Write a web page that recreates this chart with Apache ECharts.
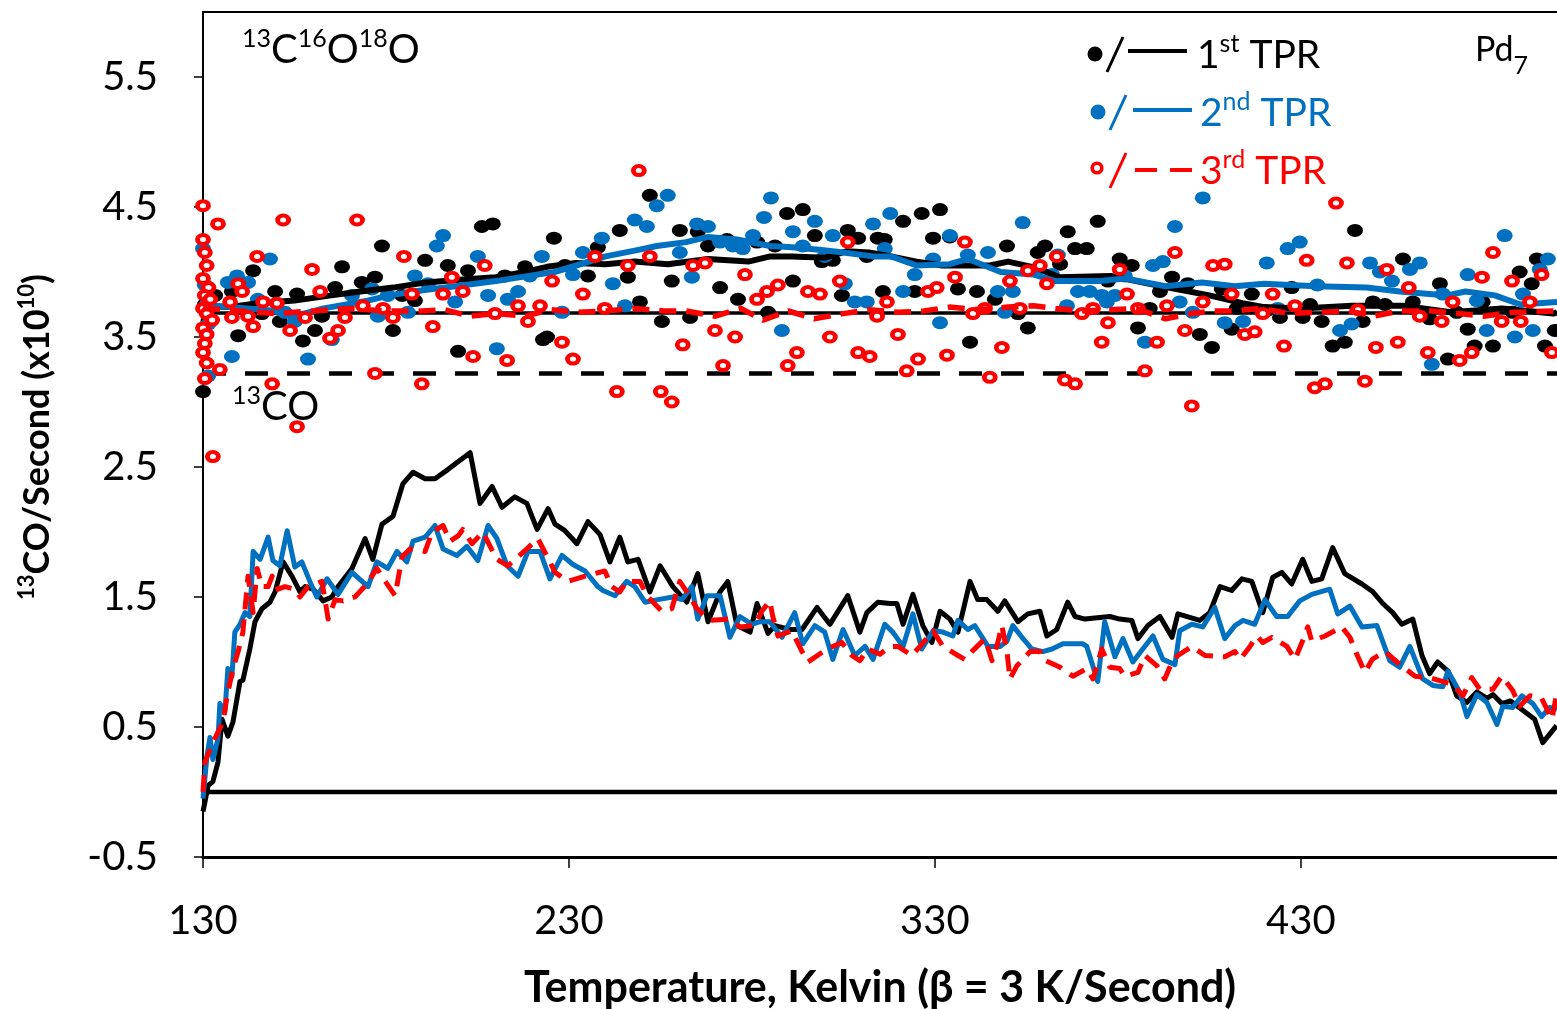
<!DOCTYPE html>
<html><head><meta charset="utf-8">
<script src="https://cdn.jsdelivr.net/npm/echarts@6/dist/echarts.min.js"></script>
<style>html,body{margin:0;padding:0;background:#fff}#chart{width:1557px;height:1009px}</style>
</head><body><div id="chart"></div>
<script>
// ---------- data ----------
const xRange = [130, 500];
const yRange = [-0.5, 6];
const xTickValues = [130, 230, 330, 430];
const yTickValues = [-0.5, 0.5, 1.5, 2.5, 3.5, 4.5, 5.5];
const ref13C16O18OSolid = 3.685;
const ref13C16O18ODashed = 3.22;
const ref13COZero = 0;

// 13C16O18O, 1st TPR (black dots)
const tpr1Dots = [[130,3.08],[130.5,3.75],[131.5,3.62],[133.3,3.82],[137.9,3.85],[139.6,3.51],[143.7,4.01],[146.1,3.68],[149.7,3.85],[151.0,3.62],[155.7,3.83],[157.3,3.47],[160.6,3.55],[162.5,3.66],[166.1,3.88],[168.0,4.04],[173.4,3.92],[177.0,3.96],[178.9,4.20],[181.9,3.55],[184.4,3.82],[187.9,3.78],[190.7,4.09],[196.9,4.05],[199.7,3.39],[202.4,4.01],[206.2,4.35],[209.2,4.37],[212.5,3.97],[218.0,4.04],[222.9,3.48],[224.0,3.50],[225.9,4.26],[228.9,4.05],[235.2,3.97],[237.9,4.19],[243.9,4.32],[246.1,3.96],[249.4,3.77],[252.1,4.59],[255.4,3.62],[258.1,3.93],[260.3,4.32],[263.1,3.65],[265.2,4.31],[268.0,4.20],[271.3,3.88],[273.2,4.25],[276.2,3.79],[281.4,4.23],[284.4,3.69],[286.3,4.20],[289.6,4.45],[291.2,3.93],[293.9,4.48],[297.2,4.28],[299.1,4.08],[302.1,4.09],[304.6,3.82],[306.2,4.32],[309.0,4.26],[311.4,4.12],[314.4,4.26],[315.8,3.85],[316.3,4.25],[321.3,4.39],[324.5,3.85],[326.4,4.45],[329.5,4.26],[331.4,4.48],[334.1,4.27],[336.3,3.87],[339.6,3.46],[341.5,3.85],[346.4,3.79],[349.7,4.20],[352.7,3.68],[355.4,3.57],[358.1,4.15],[360.1,4.20],[364.2,4.06],[366.3,4.31],[368.3,4.18],[371.5,4.18],[374.5,4.39],[377.3,3.93],[380.5,4.10],[383.8,4.05],[385.5,3.57],[388.7,3.72],[391.5,3.85],[394.8,3.96],[399.1,3.91],[402.4,3.52],[405.7,3.42],[408.4,3.87],[411.1,3.56],[412.5,3.72],[416.6,3.83],[420.5,3.70],[424.3,3.65],[427.5,3.88],[430.5,3.65],[432.5,3.75],[435.7,3.62],[438.7,3.43],[442.0,3.46],[444.8,4.32],[446.9,3.62],[449.7,3.77],[453.0,3.75],[457.9,4.10],[460.6,3.77],[465.2,3.64],[468.0,3.91],[470.2,3.33],[472.6,3.69],[475.6,3.56],[477.5,3.43],[479.7,3.77],[482.5,3.43],[487.9,3.69],[489.8,4.00],[493.1,3.91],[494.5,4.10],[496.7,3.43],[499.4,3.55]];

// 13C16O18O, 2nd TPR (blue dots)
const tpr2Dots = [[130,4.18],[130.5,3.90],[131,3.75],[131.4,3.20],[131.5,3.60],[136.8,3.92],[137.9,3.35],[139.3,3.97],[142.3,3.92],[145.0,3.79],[148.3,4.10],[152.4,3.69],[155.1,3.62],[158.7,3.33],[165.2,3.48],[170.7,3.82],[176.2,3.87],[177.8,3.66],[180.5,3.82],[186.0,3.69],[187.9,3.97],[191.5,3.91],[193.9,4.20],[195.6,4.28],[198.9,3.77],[205.1,4.12],[207.9,3.82],[210.3,3.41],[213.3,3.79],[216.1,3.85],[219.3,3.97],[222.6,4.12],[228.1,3.69],[231.1,3.98],[233.8,4.15],[239.0,4.26],[242.0,3.91],[245.3,3.74],[248.0,4.40],[251.3,4.35],[254.0,4.51],[257.0,4.59],[260.3,4.15],[263.6,3.96],[265.0,4.37],[268.0,4.35],[271.3,4.23],[274.8,4.20],[277.5,4.18],[280.3,4.28],[283.3,4.42],[285.2,4.57],[288.2,3.55],[291.2,4.31],[293.9,4.20],[297.2,4.39],[299.9,4.12],[302.1,4.28],[305.4,3.91],[308.1,3.77],[311.4,3.77],[313.1,4.37],[316.3,4.18],[317.8,4.45],[321.3,3.85],[324.5,3.98],[329.5,4.10],[331.4,3.61],[334.1,4.28],[339.0,4.13],[344.5,4.15],[347.2,3.85],[349.1,3.69],[351.3,3.85],[354.0,4.38],[358.1,4.02],[362.0,3.98],[363.6,4.13],[366.1,3.74],[369.1,3.85],[372.3,3.85],[375.6,3.82],[377.0,3.77],[379.2,3.82],[381.9,3.97],[387.4,3.46],[389.6,4.05],[392.3,4.08],[395.6,4.35],[396.9,3.77],[400.5,3.69],[403.2,4.57],[409.2,3.61],[414.2,3.62],[420.7,4.07],[423.7,3.72],[426.4,4.18],[429.7,4.23],[434.5,3.90],[440.7,3.55],[443.9,3.60],[448.9,4.07],[451.6,4.00],[454.9,3.93],[459.8,4.02],[462.5,4.07],[465.8,3.29],[468.8,3.83],[475.6,3.98],[478.1,3.78],[480.8,3.55],[485.7,4.28],[488.5,3.50],[490.7,3.83],[493.4,3.55],[495.3,4.02],[497.5,4.10]];

// 13C16O18O, 3rd TPR (red open circles)
const tpr3Dots = [[130,4.51],[130,4.25],[130.5,4.15],[131,4.05],[130,3.95],[131.5,3.88],[130.5,3.82],[132,3.79],[130,3.72],[131,3.68],[132.5,3.63],[130,3.57],[131,3.52],[130.5,3.45],[130,3.38],[131,3.30],[130.5,3.18],[132.7,2.58],[134.1,4.37],[134.6,3.25],[137.4,3.77],[137.9,3.65],[139.6,3.91],[140.7,3.85],[142.3,3.66],[143.7,3.58],[144.8,4.12],[146.4,3.77],[148.9,3.14],[150.2,3.76],[151.9,4.40],[153.8,3.55],[155.7,2.81],[157.9,3.65],[159.8,4.02],[162.0,3.85],[164.7,3.49],[166.9,3.55],[168.8,3.65],[172.1,4.40],[173.7,3.74],[177.0,3.22],[179.2,3.72],[181.9,3.65],[184.9,4.12],[187.1,3.83],[189.8,3.14],[192.8,3.58],[195.6,3.83],[198.0,3.96],[201.0,3.85],[203.8,3.35],[207.0,4.05],[209.8,3.68],[213.1,3.32],[216.1,3.74],[218.8,3.62],[222.1,3.74],[225.4,3.93],[228.1,3.46],[231.1,3.33],[233.8,3.83],[237.1,4.12],[239.8,3.72],[243.1,3.08],[246.1,4.05],[249.1,4.78],[252.1,4.12],[255.1,3.08],[258.1,3.00],[261.1,3.44],[263.9,4.05],[267.2,4.07],[269.9,3.55],[272.1,3.28],[275.4,3.50],[278.1,3.98],[281.4,3.79],[284.1,3.85],[287.1,3.90],[289.8,3.28],[292.3,3.38],[295.3,3.85],[298.6,3.83],[301.3,3.50],[304.0,3.93],[306.2,4.23],[309.0,3.38],[312.2,3.35],[314.2,3.66],[316.9,3.77],[319.9,3.52],[322.3,3.24],[325.4,3.33],[328.1,3.85],[330.5,3.88],[333.3,3.36],[335.5,3.96],[338.2,4.23],[340.4,3.68],[343.7,3.72],[345.0,3.19],[348.3,3.42],[350.5,3.93],[353.2,3.72],[355.4,4.01],[358.7,4.05],[360.6,3.91],[363.3,4.12],[365.5,3.17],[368.3,3.14],[370.2,3.68],[373.2,3.72],[375.6,3.46],[377.3,3.61],[380.5,4.02],[382.5,3.83],[385.5,3.72],[387.4,3.24],[390.7,3.46],[393.4,3.74],[395.6,4.15],[398.3,3.55],[400.2,2.97],[403.2,3.77],[406.0,4.05],[409.2,4.06],[411.1,3.83],[414.7,3.52],[417.4,3.54],[419.6,3.68],[422.3,3.83],[425.4,3.43],[428.4,3.74],[431.6,4.09],[433.8,3.11],[436.6,3.14],[439.6,4.53],[442.6,4.07],[445.6,3.71],[447.5,3.16],[450.5,3.42],[453.5,4.02],[456.5,3.46],[459.5,3.88],[462.5,3.66],[464.7,3.38],[468.5,3.62],[471.5,3.77],[473.4,3.32],[476.7,3.38],[479.5,3.96],[482.5,4.15],[484.9,3.62],[487.7,3.93],[490.1,3.62],[492.6,3.77],[495.8,3.98],[498.6,3.38]];

// 13C16O18O running averages
const tpr1Avg = [[130,3.74],[137,3.73],[145,3.76],[155,3.78],[165,3.82],[173,3.85],[182,3.88],[191,3.92],[200,3.94],[210,3.96],[218,4.00],[224,4.04],[232,4.07],[240,4.06],[248,4.08],[257,4.06],[268,4.10],[279,4.08],[285,4.12],[291,4.12],[300,4.11],[306,4.16],[312,4.15],[318,4.12],[325,4.08],[332,4.05],[345,4.05],[350,4.08],[358,4.03],[364,3.96],[378,3.97],[392,3.89],[405,3.82],[414,3.76],[420,3.73],[430,3.72],[444,3.74],[458,3.74],[471,3.69],[485,3.72],[499,3.68],[500,3.69]];
const tpr2Avg = [[130,3.76],[133,3.74],[142,3.72],[150,3.70],[155,3.66],[163,3.72],[175,3.78],[181,3.82],[190,3.86],[199,3.89],[210,3.93],[219,3.97],[226,4.00],[232,4.05],[240,4.12],[249,4.17],[254,4.20],[262,4.23],[268,4.27],[276,4.25],[285,4.20],[291,4.19],[299,4.17],[305,4.15],[313,4.12],[318,4.12],[325,4.05],[334,4.06],[339,4.10],[348,4.00],[357,3.98],[363,3.93],[375,3.93],[382,3.95],[393,3.89],[403,3.92],[412,3.89],[420,3.91],[434,3.89],[448,3.88],[457,3.85],[470,3.82],[475,3.85],[483,3.82],[490,3.75],[500,3.77]];
const tpr3Avg = [[130,3.72],[140,3.70],[150,3.68],[160,3.70],[170,3.72],[180,3.70],[190,3.70],[196,3.71],[203,3.66],[210,3.68],[218,3.66],[225,3.71],[232,3.69],[240,3.70],[248,3.72],[256,3.70],[262,3.70],[270,3.66],[277,3.72],[283,3.63],[290,3.70],[297,3.64],[305,3.68],[312,3.71],[320,3.69],[327,3.70],[334,3.73],[342,3.71],[350,3.73],[357,3.74],[363,3.72],[370,3.70],[378,3.71],[385,3.72],[393,3.64],[400,3.68],[406,3.70],[412,3.70],[419,3.72],[427,3.68],[435,3.69],[443,3.70],[450,3.66],[457,3.70],[466,3.70],[473,3.68],[480,3.66],[488,3.69],[500,3.70]];

// 13CO traces
const tpr1CO = [[130,-0.15],[130.5,-0.08],[131.4,0.05],[132.7,0.08],[134.1,0.23],[135.2,0.56],[136.8,0.43],[138.2,0.54],[140.1,0.85],[140.9,0.86],[142.8,1.10],[144.2,1.31],[146.1,1.41],[148.3,1.46],[149.7,1.54],[151.9,1.77],[154.3,1.66],[156.5,1.54],[157.9,1.58],[160.1,1.56],[162.8,1.47],[165.2,1.50],[166.9,1.58],[170.7,1.72],[174.3,1.95],[176.4,1.79],[178.9,2.06],[181.9,2.12],[184.6,2.37],[187.4,2.46],[190.7,2.41],[193.4,2.41],[196.9,2.48],[199.7,2.54],[203.0,2.61],[205.7,2.22],[209.0,2.35],[211.7,2.19],[215.2,2.27],[218.5,2.22],[221.3,2.02],[224.3,2.18],[226.2,2.06],[228.9,2.01],[232.2,1.91],[235.2,2.08],[238.5,1.98],[241.2,1.77],[243.9,1.96],[246.1,1.77],[248.9,1.79],[252.1,1.54],[254.9,1.74],[258.4,1.58],[262.2,1.46],[265.2,1.68],[268.0,1.31],[271.3,1.54],[273.4,1.62],[275.9,1.28],[279.5,1.23],[281.4,1.45],[284.4,1.22],[286.3,1.28],[290.4,1.25],[293.7,1.25],[297.8,1.42],[301.3,1.29],[306.2,1.51],[309.5,1.23],[311.4,1.38],[314.4,1.46],[317.7,1.45],[319.6,1.45],[321.3,1.29],[324.0,1.52],[326.7,1.28],[329.2,1.15],[331.4,1.39],[334.1,1.33],[336.3,1.23],[339.6,1.62],[341.7,1.48],[344.2,1.48],[347.2,1.39],[349.1,1.47],[352.7,1.31],[355.4,1.37],[358.7,1.39],[360.6,1.20],[363.3,1.25],[366.3,1.46],[368.3,1.35],[371.0,1.33],[377.8,1.35],[380.5,1.33],[383.8,1.32],[385.5,1.18],[388.2,1.28],[391.5,1.35],[394.8,1.19],[396.4,1.37],[402.4,1.32],[405.1,1.38],[407.9,1.58],[411.1,1.55],[413.9,1.64],[416.6,1.62],[419.6,1.38],[422.3,1.65],[424.8,1.69],[427.5,1.60],[430.5,1.79],[433.0,1.62],[435.7,1.64],[438.7,1.88],[442.0,1.68],[446.7,1.60],[449.7,1.54],[452.4,1.45],[455.1,1.38],[457.6,1.29],[460.6,1.33],[463.1,1.05],[465.2,0.91],[467.4,1.00],[470.2,0.93],[472.6,0.74],[475.4,0.69],[478.1,0.77],[480.8,0.72],[482.5,0.75],[484.9,0.68],[487.3,0.70],[490.1,0.64],[493.9,0.56],[496.1,0.38],[499.9,0.51]];
const tpr2CO = [[130,-0.05],[131.1,0.28],[131.9,0.42],[132.7,0.25],[134.1,0.41],[134.6,0.68],[136.0,0.62],[136.8,0.95],[137.9,0.89],[138.7,1.23],[140.1,1.29],[141.5,1.38],[142.8,1.35],[143.7,1.85],[145.6,1.79],[147.8,1.96],[149.1,1.78],[151.0,1.74],[153.0,2.01],[155.1,1.73],[157.0,1.77],[159.2,1.62],[161.1,1.50],[163.9,1.64],[166.9,1.52],[170.7,1.69],[175.1,1.58],[177.5,1.77],[180.5,1.72],[183.0,1.85],[185.7,1.77],[187.4,1.93],[190.7,1.96],[193.4,2.05],[195.6,1.87],[199.4,1.82],[202.1,1.89],[205.1,1.78],[207.9,2.05],[210.3,1.95],[213.1,1.74],[216.1,1.66],[218.8,1.85],[222.1,1.85],[224.8,1.64],[228.1,1.82],[231.1,1.75],[234.4,1.70],[237.9,1.58],[239.3,1.55],[242.6,1.51],[245.8,1.62],[248.0,1.58],[250.8,1.46],[254.3,1.48],[258.4,1.50],[260.9,1.48],[263.6,1.58],[265.2,1.33],[267.7,1.51],[271.3,1.51],[274.0,1.19],[276.7,1.35],[280.0,1.29],[282.2,1.31],[284.9,1.31],[288.2,1.19],[291.7,1.38],[293.9,1.14],[297.2,1.28],[299.9,1.23],[302.1,1.02],[304.9,1.25],[308.1,1.05],[310.9,1.12],[313.1,1.02],[316.3,1.29],[318.5,1.23],[321.3,1.12],[324.0,1.37],[326.4,1.10],[329.5,1.24],[332.2,1.23],[334.9,1.20],[336.3,1.32],[339.0,1.25],[340.9,1.28],[344.5,1.12],[347.8,1.12],[349.7,1.16],[351.3,1.28],[353.8,1.19],[356.5,1.10],[359.5,1.08],[362.0,1.10],[365.0,1.14],[370.4,1.14],[371.5,1.12],[374.5,0.85],[376.4,1.31],[379.2,1.04],[381.4,1.18],[384.1,1.00],[386.8,1.10],[389.6,1.20],[392.3,1.02],[395.6,0.98],[396.9,1.24],[400.2,1.29],[403.2,1.27],[406.5,1.42],[409.2,1.18],[412.0,1.28],[414.2,1.32],[417.4,1.29],[420.2,1.48],[423.4,1.35],[426.4,1.35],[429.7,1.47],[433.0,1.52],[437.9,1.56],[440.1,1.37],[443.4,1.43],[446.7,1.27],[450.8,1.28],[454.3,1.01],[457.0,0.96],[459.8,1.12],[463.3,0.87],[466.1,0.82],[468.8,0.81],[470.2,0.93],[473.4,0.77],[475.4,0.58],[478.1,0.75],[480.8,0.69],[483.6,0.52],[485.2,0.66],[487.9,0.65],[490.4,0.74],[493.4,0.68],[495.8,0.58],[498.0,0.65],[500,0.64]];
const tpr3CO = [[130,0.0],[130.5,0.23],[132.7,0.38],[135.5,0.54],[136.6,0.74],[138.2,0.95],[139.6,1.08],[140.9,1.23],[142.3,1.66],[143.7,1.38],[144.8,1.72],[146.1,1.58],[147.8,1.58],[148.9,1.66],[150.5,1.56],[152.4,1.58],[155.1,1.56],[156.5,1.50],[158.7,1.58],[162.5,1.62],[164.2,1.33],[166.1,1.48],[168.3,1.47],[171.5,1.50],[174.8,1.60],[177.5,1.72],[180.3,1.60],[182.5,1.51],[184.4,1.81],[186.6,1.87],[190.7,1.85],[192.6,2.00],[195.6,2.05],[197.5,1.93],[199.7,1.97],[201.0,2.02],[203.5,1.91],[206.5,2.00],[207.9,1.92],[210.3,1.79],[213.3,1.74],[218.5,1.87],[221.5,1.95],[224.8,1.77],[226.2,1.69],[229.7,1.62],[234.4,1.66],[239.8,1.70],[241.7,1.58],[243.9,1.54],[245.8,1.62],[249.4,1.62],[251.3,1.51],[255.4,1.39],[258.1,1.41],[260.3,1.62],[262.2,1.54],[265.0,1.41],[268.5,1.32],[274.0,1.33],[276.7,1.27],[280.8,1.28],[282.7,1.39],[284.9,1.47],[285.7,1.35],[287.1,1.20],[290.9,1.24],[293.7,1.08],[295.3,1.00],[300.5,1.10],[304.6,1.15],[307.3,1.05],[309.5,1.01],[311.7,1.10],[315.0,1.06],[317.7,1.12],[319.9,1.12],[323.7,1.05],[325.9,1.12],[329.5,1.24],[332.2,1.12],[336.3,1.05],[338.2,1.02],[340.1,1.08],[343.7,1.18],[345.6,1.01],[347.2,1.15],[348.3,1.28],[349.7,1.08],[350.5,0.87],[352.4,0.97],[356.0,1.08],[358.7,1.08],[359.5,1.02],[364.2,0.96],[367.7,0.89],[371.5,0.95],[373.2,0.87],[375.6,1.10],[377.8,0.96],[380.5,0.95],[381.9,0.89],[385.5,0.92],[387.4,1.05],[390.7,0.97],[392.8,0.87],[394.8,1.00],[396.4,1.05],[400.2,1.12],[403.8,1.05],[409.2,1.04],[412.0,1.08],[413.4,1.02],[416.1,1.12],[418.0,1.20],[419.6,1.15],[422.1,1.19],[426.2,1.12],[428.4,1.02],[430.3,1.15],[431.9,1.27],[433.0,1.16],[436.6,1.20],[441.2,1.27],[443.4,1.19],[445.3,1.06],[447.5,0.92],[449.5,1.02],[453.0,1.08],[456.3,1.00],[461.2,0.89],[465.2,0.88],[471.3,0.83],[474.3,0.74],[476.7,0.88],[478.9,0.79],[482.5,0.79],[484.9,0.89],[487.9,0.78],[489.8,0.66],[492.6,0.74],[495.8,0.72],[498.6,0.56],[500,0.77]];

// ---------- styling ----------
const BLACK = '#000000', BLUE = '#0070C0', RED = '#FF0000';
const FONT = 'Lato';

function hLine(value, style, z) {
  return { type: 'line', data: [[xRange[0], value], [xRange[1], value]], symbol: 'none',
           lineStyle: style, silent: true, z: z, animation: false };
}
function traceLine(data, color, width, type, z) {
  return { type: 'line', data: data, symbol: 'none', showSymbol: false, sampling: null,
           lineStyle: { color: color, width: width, type: type || 'solid', cap: 'butt', join: 'round' },
           silent: true, z: z, animation: false };
}

const chart = echarts.init(document.getElementById('chart'), null, { renderer: 'canvas' });

const supStyle = (size, color) => ({ fontSize: size, fontFamily: FONT, color: color, verticalAlign: 'top', lineHeight: size * 1.9 });

chart.setOption({
  backgroundColor: '#ffffff',
  animation: false,
  grid: { left: 203, right: 0, top: 12, bottom: 152, containLabel: false },
  xAxis: [{
    type: 'value', min: xRange[0], max: xRange[1], interval: 100,
    axisLine: { show: true, onZero: false, lineStyle: { color: BLACK, width: 3 } },
    axisTick: { show: true, length: 11, customValues: xTickValues, lineStyle: { color: BLACK, width: 1.5 } },
    axisLabel: { customValues: xTickValues, margin: 44, fontSize: 40, fontFamily: FONT, color: BLACK },
    splitLine: { show: false }
  }, {
    type: 'value', position: 'top', min: xRange[0], max: xRange[1],
    axisLine: { show: true, onZero: false, lineStyle: { color: BLACK, width: 2 } },
    axisTick: { show: false }, axisLabel: { show: false }, splitLine: { show: false }
  }],
  yAxis: {
    type: 'value', min: yRange[0], max: yRange[1], interval: 1,
    axisLine: { show: true, onZero: false, lineStyle: { color: BLACK, width: 2 } },
    axisTick: { show: true, length: 9, customValues: yTickValues, lineStyle: { color: BLACK, width: 1.5 } },
    axisLabel: { customValues: yTickValues, margin: 45, fontSize: 40, fontFamily: FONT, color: BLACK,
                 formatter: v => (Math.round(v * 10) / 10).toFixed(1) },
    splitLine: { show: false }
  },
  series: [
    hLine(ref13C16O18OSolid, { color: BLACK, width: 3.5 }, 1),
    hLine(ref13C16O18ODashed, { color: BLACK, width: 4.5, type: [23, 19] }, 1),
    hLine(ref13COZero, { color: BLACK, width: 4.5 }, 1),
    { type: 'scatter', data: tpr1Dots, symbol: 'circle', symbolSize: [16, 13], itemStyle: { color: BLACK, opacity: 1 }, silent: true, z: 2 },
    { type: 'scatter', data: tpr2Dots, symbol: 'circle', symbolSize: [16, 13], itemStyle: { color: BLUE, opacity: 1 }, silent: true, z: 3 },
    traceLine(tpr1Avg, BLACK, 6, 'solid', 4),
    traceLine(tpr2Avg, BLUE, 6, 'solid', 4),
    { type: 'scatter', data: tpr3Dots, symbol: 'circle', symbolSize: [11, 9],
      itemStyle: { color: '#FFFFFF', borderColor: RED, borderWidth: 4.4, opacity: 1 }, silent: true, z: 5 },
    traceLine(tpr3Avg, RED, 5.5, [17, 10], 6),
    traceLine(tpr1CO, BLACK, 5, 'solid', 7),
    traceLine(tpr2CO, BLUE, 5, 'solid', 8),
    traceLine(tpr3CO, RED, 5, [17, 10], 9)
  ],
  graphic: [
    // y-axis title
    { type: 'text', x: 37, y: 437, rotation: Math.PI / 2, z: 100,
      style: { text: '{s|13}CO/Second (x10{s|10})', textAlign: 'center', textVerticalAlign: 'middle',
               fontSize: 36, fontWeight: 'bold', fontFamily: FONT, fill: BLACK,
               rich: { s: { fontSize: 22, fontWeight: 'bold', fontFamily: FONT, verticalAlign: 'top', lineHeight: 42 } } } },
    // x-axis title
    { type: 'text', x: 880, y: 988, z: 100,
      style: { text: 'Temperature, Kelvin (\u03B2 = 3 K/Second)', textAlign: 'center', textVerticalAlign: 'middle',
               fontSize: 43, fontWeight: 'bold', fontFamily: FONT, fill: BLACK } },
    // species labels
    { type: 'text', x: 242, y: 50, z: 100,
      style: { text: '{s|13}C{s|16}O{s|18}O', textAlign: 'left', textVerticalAlign: 'middle',
               fontSize: 40, fontFamily: FONT, fill: BLACK, rich: { s: supStyle(25, BLACK) } } },
    { type: 'text', x: 232, y: 407, z: 100,
      style: { text: '{s|13}CO', textAlign: 'left', textVerticalAlign: 'middle',
               fontSize: 40, fontFamily: FONT, fill: BLACK, rich: { s: supStyle(25, BLACK) } } },
    { type: 'text', x: 1475, y: 50, z: 100,
      style: { text: 'Pd{b|7}', textAlign: 'left', textVerticalAlign: 'middle',
               fontSize: 34, fontFamily: FONT, fill: BLACK,
               rich: { b: { fontSize: 25, fontFamily: FONT, verticalAlign: 'bottom', lineHeight: 56 } } } },
    // legend row 1
    { type: 'circle', shape: { cx: 1095, cy: 54, r: 7.5 }, style: { fill: BLACK }, z: 100 },
    { type: 'line', shape: { x1: 1107, y1: 72, x2: 1123, y2: 37 }, style: { stroke: BLACK, lineWidth: 3 }, z: 100 },
    { type: 'line', shape: { x1: 1128, y1: 51, x2: 1187, y2: 51 }, style: { stroke: BLACK, lineWidth: 4 }, z: 100 },
    { type: 'text', x: 1197, y: 55, z: 100,
      style: { text: '1{s|st} TPR', textAlign: 'left', textVerticalAlign: 'middle', fontSize: 39, fontFamily: FONT, fill: BLACK,
               rich: { s: supStyle(25, BLACK) } } },
    // legend row 2
    { type: 'circle', shape: { cx: 1098, cy: 112, r: 7.5 }, style: { fill: BLUE }, z: 100 },
    { type: 'line', shape: { x1: 1110, y1: 130, x2: 1126, y2: 95 }, style: { stroke: BLUE, lineWidth: 3 }, z: 100 },
    { type: 'line', shape: { x1: 1133, y1: 110, x2: 1192, y2: 110 }, style: { stroke: BLUE, lineWidth: 4 }, z: 100 },
    { type: 'text', x: 1200, y: 113, z: 100,
      style: { text: '2{s|nd} TPR', textAlign: 'left', textVerticalAlign: 'middle', fontSize: 39, fontFamily: FONT, fill: BLUE,
               rich: { s: supStyle(25, BLUE) } } },
    // legend row 3
    { type: 'circle', shape: { cx: 1097, cy: 168, r: 4.8 }, style: { fill: '#fff', stroke: RED, lineWidth: 3.6 }, z: 100 },
    { type: 'line', shape: { x1: 1110, y1: 188, x2: 1126, y2: 153 }, style: { stroke: RED, lineWidth: 3 }, z: 100 },
    { type: 'line', shape: { x1: 1135, y1: 170, x2: 1157, y2: 170 }, style: { stroke: RED, lineWidth: 4 }, z: 100 },
    { type: 'line', shape: { x1: 1170, y1: 170, x2: 1192, y2: 170 }, style: { stroke: RED, lineWidth: 4 }, z: 100 },
    { type: 'text', x: 1200, y: 171, z: 100,
      style: { text: '3{s|rd} TPR', textAlign: 'left', textVerticalAlign: 'middle', fontSize: 39, fontFamily: FONT, fill: RED,
               rich: { s: supStyle(25, RED) } } }
  ]
});
</script>
</body></html>
